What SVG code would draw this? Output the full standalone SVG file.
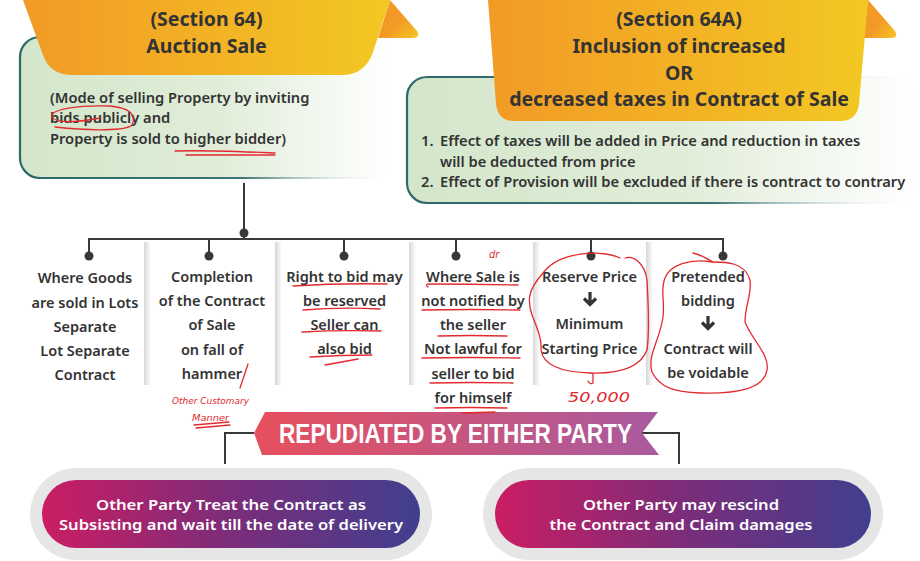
<svg xmlns="http://www.w3.org/2000/svg" width="920" height="561" viewBox="0 0 920 561">
<defs>
<linearGradient id="gBanner" x1="0" y1="0" x2="1" y2="0">
<stop offset="0" stop-color="#f29a26"/><stop offset="1" stop-color="#f3c823"/>
</linearGradient>
<linearGradient id="gFold" x1="0" y1="0" x2="1" y2="1">
<stop offset="0.55" stop-color="#f39a26"/><stop offset="1" stop-color="#f4c623"/>
</linearGradient>
<linearGradient id="gBox" x1="0" y1="0" x2="1" y2="0">
<stop offset="0" stop-color="#d3e6ca"/><stop offset="0.55" stop-color="#e1edd9"/><stop offset="1" stop-color="#ffffff"/>
</linearGradient>
<linearGradient id="gBoxStroke" x1="0" y1="0" x2="1" y2="0">
<stop offset="0" stop-color="#2e6a6b"/><stop offset="0.6" stop-color="#3d7476"/><stop offset="1" stop-color="#ffffff" stop-opacity="0"/>
</linearGradient>
<linearGradient id="gRibbon" x1="0" y1="0" x2="1" y2="0">
<stop offset="0" stop-color="#e7505d"/><stop offset="1" stop-color="#a95b9f"/>
</linearGradient>
<linearGradient id="gPill" x1="0" y1="0" x2="1" y2="0">
<stop offset="0" stop-color="#cb1d62"/><stop offset="0.5" stop-color="#7b2d7a"/><stop offset="1" stop-color="#413f8f"/>
</linearGradient>
<linearGradient id="gShadow" x1="0" y1="0" x2="1" y2="0">
<stop offset="0" stop-color="#000" stop-opacity="0.16"/><stop offset="1" stop-color="#000" stop-opacity="0"/>
</linearGradient>
</defs>
<style>
.t{font-family:"Noto Sans","Open Sans","DejaVu Sans",sans-serif;font-weight:600;fill:#333;}
.title{font-size:19.5px;font-weight:700;text-anchor:middle;}
.body{font-size:14.7px;}
.col{font-size:14.5px;text-anchor:middle;}
.pill{font-size:14.5px;fill:#fff;text-anchor:middle;}
.conn{stroke:#383838;stroke-width:2;fill:none;}
.dot{fill:#383838;}
.ink{stroke:#e22a2e;stroke-width:1.3;fill:none;stroke-linecap:round;stroke-linejoin:round;}
.inkt{font-family:"DejaVu Sans","Liberation Sans",sans-serif;font-style:italic;fill:#e22a2e;}
.arr{stroke:#333;stroke-width:3.2;fill:none;}
</style>

<!-- column shadows -->
<g id="shadows">
<rect x="144" y="242" width="7" height="143" fill="url(#gShadow)"/>
<rect x="275" y="242" width="7" height="143" fill="url(#gShadow)"/>
<rect x="409" y="242" width="7" height="143" fill="url(#gShadow)"/>
<rect x="533" y="242" width="7" height="143" fill="url(#gShadow)"/>
<rect x="646" y="242" width="7" height="143" fill="url(#gShadow)"/>
</g>

<!-- Section 64 -->
<g id="sec64">
<rect x="20" y="37" width="370" height="141" rx="20" fill="url(#gBox)" stroke="url(#gBoxStroke)" stroke-width="2.2"/>
<path d="M390,0 L417,31 Q421,38 413,38 L378,38 Z" fill="url(#gFold)"/>
<path d="M23,0 L390,0 L373,52 Q365,75 342,75 L72,75 Q50,75 43,55 Z" fill="url(#gBanner)"/>
<text class="t title" x="206.5" y="26">(Section 64)</text>
<text class="t title" x="206.5" y="53">Auction Sale</text>
<text class="t body" x="50" y="103">(Mode of selling Property by inviting</text>
<text class="t body" x="50" y="123">bids publicly and</text>
<text class="t body" x="50" y="143.5">Property is sold to higher bidder)</text>
</g>

<!-- Section 64A -->
<g id="sec64a">
<rect x="407" y="77" width="508" height="126" rx="20" fill="url(#gBox)" stroke="url(#gBoxStroke)" stroke-width="2.2"/>
<path d="M868,0 L895,31 Q899,38 891,38 L863,38 Z" fill="url(#gFold)"/>
<path d="M488,0 L868,0 L859,104 Q857,121 840,121 L514,121 Q498,121 496,104 Z" fill="url(#gBanner)"/>
<text class="t title" x="679" y="26">(Section 64A)</text>
<text class="t title" x="679" y="53">Inclusion of increased</text>
<text class="t title" x="679" y="80">OR</text>
<text class="t title" x="679" y="106">decreased taxes in Contract of Sale</text>
<text class="t body" x="421" y="146">1.</text>
<text class="t body" x="440" y="146">Effect of taxes will be added in Price and reduction in taxes</text>
<text class="t body" x="440" y="166.5">will be deducted from price</text>
<text class="t body" x="421" y="187">2.</text>
<text class="t body" x="440" y="187">Effect of Provision will be excluded if there is contract to contrary</text>
</g>

<!-- connectors -->
<g id="connectors">
<path class="conn" d="M244,183 V239"/>
<circle class="dot" cx="244" cy="233" r="4.5"/>
<path class="conn" d="M89,256 V239 H723 V256"/>
<path class="conn" d="M209,239 V256 M344,239 V256 M456,239 V256 M591,239 V256"/>
<circle class="dot" cx="89" cy="256" r="4.5"/>
<circle class="dot" cx="209" cy="256" r="4.5"/>
<circle class="dot" cx="344" cy="256" r="4.5"/>
<circle class="dot" cx="456" cy="256" r="4.5"/>
<circle class="dot" cx="591" cy="256" r="4.5"/>
<circle class="dot" cx="723" cy="256" r="4.5"/>
<path class="conn" d="M254,433 H225 V464"/>
<path class="conn" d="M642,433 H679 V464"/>
</g>

<g id="col1">
<text class="t col" x="85" y="283">Where Goods</text>
<text class="t col" x="85" y="307.5">are sold in Lots</text>
<text class="t col" x="85" y="331.5">Separate</text>
<text class="t col" x="85" y="356">Lot Separate</text>
<text class="t col" x="85" y="380">Contract</text>
</g>
<g id="col2">
<text class="t col" x="212" y="282">Completion</text>
<text class="t col" x="212" y="306">of the Contract</text>
<text class="t col" x="212" y="330">of Sale</text>
<text class="t col" x="212" y="355">on fall of</text>
<text class="t col" x="212" y="379">hammer</text>
</g>
<g id="col3">
<text class="t col" x="344.5" y="282">Right to bid may</text>
<text class="t col" x="344.5" y="306">be reserved</text>
<text class="t col" x="344.5" y="330">Seller can</text>
<text class="t col" x="344.5" y="354">also bid</text>
</g>
<g id="col4">
<text class="t col" x="473" y="282">Where Sale is</text>
<text class="t col" x="473" y="306">not notified by</text>
<text class="t col" x="473" y="330">the seller</text>
<text class="t col" x="473" y="354">Not lawful for</text>
<text class="t col" x="473" y="379">seller to bid</text>
<text class="t col" x="473" y="403">for himself</text>
</g>
<g id="col5">
<text class="t col" x="589.5" y="282">Reserve Price</text>
<path class="arr" d="M590,292 V304 M584,298.5 L590,304.5 L596,298.5"/>
<text class="t col" x="589.5" y="329">Minimum</text>
<text class="t col" x="589.5" y="354">Starting Price</text>
</g>
<g id="col6">
<text class="t col" x="708" y="282">Pretended</text>
<text class="t col" x="708" y="306">bidding</text>
<path class="arr" d="M708,316 V328 M702,322.5 L708,328.5 L714,322.5"/>
<text class="t col" x="708" y="354">Contract will</text>
<text class="t col" x="708" y="378">be voidable</text>
</g>

<!-- ribbon -->
<g id="repudiated">
<path d="M265,412 L658,412 L642,433 L659,455 L262,455 L254,433 Z" fill="url(#gRibbon)"/>
<text x="455.5" y="442.5" font-family="'Liberation Sans',Arial,sans-serif" font-weight="700" font-size="28" fill="#fff" text-anchor="middle" textLength="353" lengthAdjust="spacingAndGlyphs">REPUDIATED BY EITHER PARTY</text>
</g>

<!-- pills -->
<g id="pillLeft">
<rect x="30" y="468" width="402" height="92" rx="46" fill="#e6e6e6"/>
<rect x="42" y="480" width="378" height="68" rx="34" fill="url(#gPill)"/>
<text class="t pill" x="231" y="510" textLength="270" lengthAdjust="spacingAndGlyphs">Other Party Treat the Contract as</text>
<text class="t pill" x="231" y="530" textLength="344" lengthAdjust="spacingAndGlyphs">Subsisting and wait till the date of delivery</text>
</g>
<g id="pillRight">
<rect x="483" y="468" width="400" height="92" rx="46" fill="#e6e6e6"/>
<rect x="495" y="480" width="376" height="68" rx="34" fill="url(#gPill)"/>
<text class="t pill" x="681" y="510" textLength="196" lengthAdjust="spacingAndGlyphs">Other Party may rescind</text>
<text class="t pill" x="681" y="530" textLength="263" lengthAdjust="spacingAndGlyphs">the Contract and Claim damages</text>
</g>

<!-- handwritten annotations -->
<g id="annotations">
<path class="ink" d="M100,118 C80,122 56,124 52,117 C49,109 80,105 110,106 C130,108 137,115 132,125 C127,131 90,131 55,127"/>
<path class="ink" d="M175,151 C205,150 250,152 275,153 M186,155 L275,155"/>
<path class="ink" d="M293,286 Q340,283 387,284 M303,310 Q340,307 380,309 M302,332 Q340,330 381,331 M310,357 Q340,355 372,355 M325,365 L358,359"/>
<path class="ink" d="M248,364 L240,388"/>
<text class="inkt" x="172" y="404" font-size="9.5" textLength="77" lengthAdjust="spacingAndGlyphs">Other Customary</text>
<text class="inkt" x="192" y="421" font-size="9.5" textLength="37" lengthAdjust="spacingAndGlyphs">Manner</text>
<path class="ink" d="M194,425 L229,422 M196,428 L230,425"/>
<path class="ink" d="M428,287 Q424,284 430,284 Q475,284 518,285 M422,310 Q470,309 520,310 M438,336 Q470,335 507,336 M422,358 Q470,357 520,358 M430,383 Q470,382 513,383 M435,408 Q470,407 507,408 M462,413 L495,412"/>
<text class="inkt" x="489" y="258" font-size="10">dr</text>
<path class="ink" d="M620,258 C605,250 560,250 543,273 C528,290 527,300 532,315 C538,330 542,340 541,350 C543,365 560,372 590,373 C620,374 640,368 647,350 C650,330 648,300 647,280 C645,265 635,255 625,258"/>
<path class="ink" d="M593,374 L593,383 Q590,385 588,381"/>
<text class="inkt" x="568" y="402" font-size="14" font-style="normal" textLength="62" lengthAdjust="spacingAndGlyphs">50,000</text>
<path class="ink" d="M693,253 C705,256 712,262 713,262 C725,262 745,262 750,280 C752,295 745,305 745,322 C752,340 770,355 767,370 C764,388 740,394 700,393 C675,392 660,388 652,372 C647,355 660,340 663,317 C665,300 660,290 665,278 C670,265 690,258 712,262"/>
</g>
</svg>
